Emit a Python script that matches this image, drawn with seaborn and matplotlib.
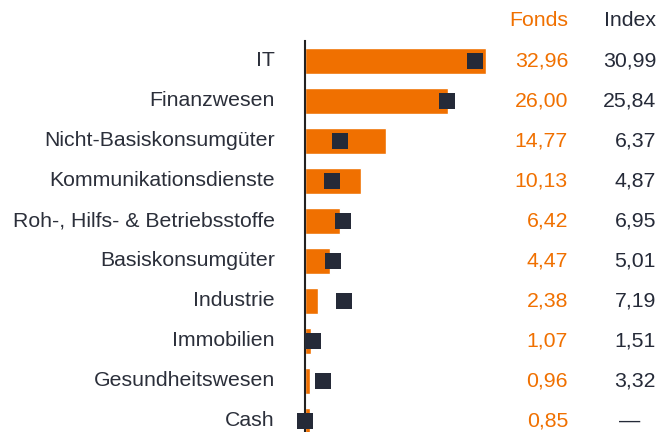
import matplotlib
matplotlib.use("Agg")
import matplotlib.pyplot as plt
import seaborn as sns
import pandas as pd

sectors = ["IT", "Finanzwesen", "Nicht-Basiskonsumgüter", "Kommunikationsdienste",
           "Roh-, Hilfs- & Betriebsstoffe", "Basiskonsumgüter", "Industrie",
           "Immobilien", "Gesundheitswesen", "Cash"]
fonds = [32.96, 26.00, 14.77, 10.13, 6.42, 4.47, 2.38, 1.07, 0.96, 0.85]
index = [30.99, 25.84, 6.37, 4.87, 6.95, 5.01, 7.19, 1.51, 3.32, 0.0]
index_labels = ["30,99", "25,84", "6,37", "4,87", "6,95", "5,01", "7,19", "1,51", "3,32", "—"]

ORANGE = "#f07000"
NAVY = "#252a38"
FS = 15.3

df = pd.DataFrame({"sector": sectors, "fonds": fonds, "index": index})

sns.set_style("white")
plt.rcParams["font.family"] = ["Liberation Sans", "DejaVu Sans"]

W, H = 660, 432
fig = plt.figure(figsize=(W / 100, H / 100), dpi=100)
# axes: left edge at x=305px, top at 41px, bottom at 432px; 5.49 px per unit
x_max = 40
ax_w = x_max * 5.49
ax = fig.add_axes([305 / W, 0, ax_w / W, (432 - 41) / H])

sns.barplot(data=df, x="fonds", y="sector", color=ORANGE, saturation=1,
            width=0.65, orient="h", ax=ax)
ax.scatter(df["index"], range(len(df)), marker="s", s=130, color=NAVY,
           zorder=3, clip_on=False, linewidths=0)

ax.set_xlim(0, x_max)
ax.set_ylim(9.275, -0.5)
for s in ["top", "right", "bottom"]:
    ax.spines[s].set_visible(False)
ax.spines["left"].set_color("#222222")
ax.spines["left"].set_linewidth(1.5)
ax.set_xticks([])
ax.set_yticks([])
ax.set_xlabel("")
ax.set_ylabel("")

trans = ax.get_yaxis_transform()
for i, name in enumerate(sectors):
    y = 1 - (61 + 40 * i) / H
    ax.text(-30 / ax_w, i, name, transform=trans, ha="right", va="center",
            fontsize=FS, color="#2b2f3a")
    fig.text(568 / W, y, f"{fonds[i]:.2f}".replace(".", ","),
             ha="right", va="center", fontsize=FS, color=ORANGE)
    if index_labels[i] == "—":
        fig.text(630 / W, y, index_labels[i], ha="center", va="center",
                 fontsize=FS, color=NAVY)
    else:
        fig.text(656 / W, y, index_labels[i], ha="right", va="center",
                 fontsize=FS, color=NAVY)

fig.text(568 / W, 1 - 21 / H, "Fonds", ha="right", va="center", fontsize=FS, color=ORANGE)
fig.text(656 / W, 1 - 21 / H, "Index", ha="right", va="center", fontsize=FS, color=NAVY)

fig.savefig("out.png", dpi=100)
